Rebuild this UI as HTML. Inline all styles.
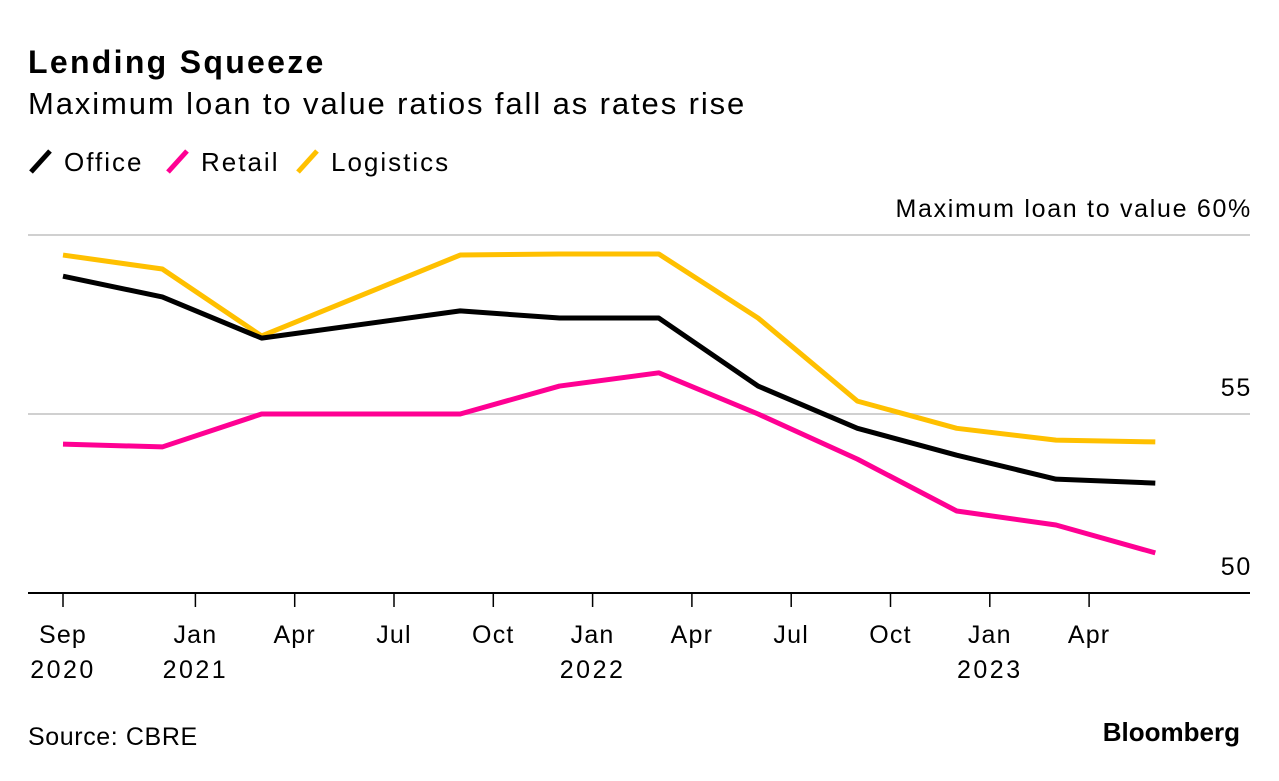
<!DOCTYPE html>
<html><head><meta charset="utf-8"><style>
body{margin:0;background:#fff;width:1279px;height:776px;overflow:hidden;font-family:"Liberation Sans",sans-serif}
</style></head><body>
<svg id="c" width="1279" height="776" font-family="Liberation Sans, sans-serif">
<text x="28" y="73" font-size="32" letter-spacing="2.3" font-weight="bold" fill="#000">Lending Squeeze</text>
<text x="28" y="114" font-size="31" letter-spacing="1.9" fill="#000">Maximum loan to value ratios fall as rates rise</text>
<g>
<g><line x1="31" y1="172" x2="50" y2="151" stroke="#000" stroke-width="5"/><text x="64" y="171" font-size="26" letter-spacing="2">Office</text></g>
<g><line x1="168" y1="172" x2="187" y2="151" stroke="#ff0093" stroke-width="5"/><text x="201" y="171" font-size="26" letter-spacing="2">Retail</text></g>
<g><line x1="298" y1="172" x2="317" y2="151" stroke="#ffc000" stroke-width="5"/><text x="331" y="171" font-size="26" letter-spacing="2">Logistics</text></g>
</g>
<g id="grid"></g><g id="xa"></g><g id="lines"></g>
<text x="28" y="745" font-size="25" letter-spacing="0.6">Source: CBRE</text>
<text x="1240" y="741" font-size="26" font-weight="bold" text-anchor="end">Bloomberg</text>
</svg>
<script>
const months=[0,3,6,12,15,18,21,24,27,30,33]; // months since Sep 2020
const office=[58.85,58.27,57.12,57.88,57.68,57.68,55.78,54.6,53.85,53.18,53.07];
const retail=[54.16,54.08,55,55,55.78,56.15,55,53.74,52.29,51.9,51.12];
const logistics=[59.44,59.05,57.18,59.44,59.47,59.47,57.68,55.36,54.6,54.27,54.22];
const yTicks=[50,55,60];
const yTickLabels=["50","55","Maximum loan to value 60%"];
const xTickMonths=[0,4,7,10,13,16,19,22,25,28,31];
const xTickLabels=["Sep","Jan","Apr","Jul","Oct","Jan","Apr","Jul","Oct","Jan","Apr"];
const xYearLabels=["2020","2021","","","","2022","","","","2023",""];
const NS="http://www.w3.org/2000/svg";
const x=m=>63+m*33.1;
const y=v=>593-(v-50)*35.8;
function mk(t,a,p){const e=document.createElementNS(NS,t);for(const k in a)e.setAttribute(k,a[k]);p.appendChild(e);return e;}
const g=document.getElementById('grid');
yTicks.forEach((v,i)=>{
  if(v>50){const l=mk('line',{x1:28,x2:1250,y1:y(v),y2:y(v),stroke:'#d0d0d0','stroke-width':2},g);
  
  }
  const t=mk('text',{x:1252,y:y(v)-18,'font-size':25,'letter-spacing':1.7,'text-anchor':'end'},g);
  t.textContent=yTickLabels[i];
  
  
});
const xa=document.getElementById('xa');
const ax=mk('line',{x1:28,x2:1250,y1:593,y2:593,stroke:'#000','stroke-width':2},xa);


xTickMonths.forEach((m,i)=>{
  mk('line',{x1:x(m),x2:x(m),y1:593,y2:607,stroke:'#000','stroke-width':1.5},xa);
  const t=mk('text',{x:x(m),y:643,'font-size':25,'letter-spacing':1.2,'text-anchor':'middle'},xa);
  t.textContent=xTickLabels[i];
  
  
  if(xYearLabels[i]){const t2=mk('text',{x:x(m),y:678,'font-size':25,'letter-spacing':2.5,'text-anchor':'middle'},xa);
  t2.textContent=xYearLabels[i];
  
  }
});
const L=document.getElementById('lines');
[[logistics,'#ffc000','logistics'],[office,'#000','office'],[retail,'#ff0093','retail']].forEach(([d,c,n])=>{
  const p=mk('polyline',{points:d.map((v,i)=>x(months[i])+','+y(v)).join(' '),fill:'none',stroke:c,'stroke-width':5,'stroke-linejoin':'round'},L);
  
  
});
</script>
</body></html>
